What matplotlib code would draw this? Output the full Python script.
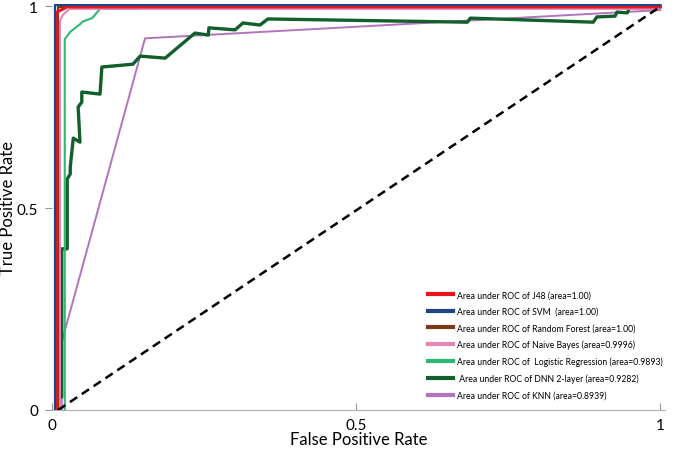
import matplotlib
matplotlib.use("Agg")
import matplotlib.pyplot as plt

plt.rcParams['font.family'] = ['Lato', 'DejaVu Sans']

# ROC curves (FPR, TPR)
knn_fpr = [0.016, 0.016, 0.153, 1.0]
knn_tpr = [0.0, 0.168, 0.920, 0.990]

dnn_fpr = [0.010, 0.010, 0.016, 0.016, 0.025, 0.025, 0.030, 0.030, 0.035, 0.046,
           0.043, 0.049, 0.049, 0.079, 0.082, 0.133, 0.145, 0.186, 0.235, 0.257,
           0.258, 0.301, 0.314, 0.342, 0.355, 0.683, 0.688, 0.890, 0.896, 0.926,
           0.929, 0.946, 0.951, 0.987, 1.0]
dnn_tpr = [0.0, 0.032, 0.032, 0.399, 0.399, 0.572, 0.584, 0.601, 0.673, 0.663,
           0.750, 0.762, 0.787, 0.782, 0.849, 0.856, 0.876, 0.871, 0.933, 0.928,
           0.946, 0.941, 0.958, 0.953, 0.968, 0.960, 0.970, 0.960, 0.973, 0.975,
           0.985, 0.983, 1.0, 0.998, 1.0]

lr_fpr = [0.021, 0.021, 0.030, 0.046, 0.051, 0.066, 0.079, 0.145, 0.148, 1.0]
lr_tpr = [0.0, 0.918, 0.936, 0.955, 0.962, 0.970, 0.993, 0.993, 0.998, 0.998]

nb_fpr = [0.013, 0.013, 0.018, 0.025, 0.030, 1.0]
nb_tpr = [0.0, 0.963, 0.978, 0.988, 0.993, 0.993]

rf_fpr = [0.010, 0.010, 1.0]
rf_tpr = [0.0, 0.997, 0.997]

j48_fpr = [0.008, 0.008, 0.025, 1.0]
j48_tpr = [0.0, 0.985, 0.998, 0.998]

svm_fpr = [0.005, 0.005, 1.0]
svm_tpr = [0.0, 1.003, 1.003]

labels = ['Area under ROC of J48 (area=1.00)',
          'Area under ROC of SVM  (area=1.00)',
          'Area under ROC of Random Forest (area=1.00)',
          'Area under ROC of Naive Bayes (area=0.9996)',
          'Area under ROC of  Logistic Regression (area=0.9893)',
          ' Area under ROC of DNN 2-layer (area=0.9282)',
          'Area under ROC of KNN (area=0.8939)']
colors = ['#e8141c', '#1c4587', '#7b3a17', '#e884b4', '#2fb872', '#11602c', '#b274bd']


def main():
    fig = plt.figure(figsize=(6.85, 4.52), dpi=100)
    ax = fig.add_axes([52 / 685, 41 / 452, 613 / 685, 406 / 452])

    curves = [(j48_fpr, j48_tpr, 2.2), (svm_fpr, svm_tpr, 1.6), (rf_fpr, rf_tpr, 1.6),
              (nb_fpr, nb_tpr, 1.5), (lr_fpr, lr_tpr, 1.5), (dnn_fpr, dnn_tpr, 2.4),
              (knn_fpr, knn_tpr, 1.4)]
    zorders = [6, 7, 5, 4, 3, 2, 1]
    for (fpr, tpr, lw), c, lab, z in zip(curves, colors, labels, zorders):
        ax.plot(fpr, tpr, color=c, lw=lw, label=lab, zorder=z)

    # chance line
    ax.plot([0.01, 0.995], [0.0, 0.993], color='black', lw=1.8, ls=(0, (3.5, 2.2)), zorder=8)

    ax.set_xlim(0, 1.008)
    ax.set_ylim(0, 1.005)
    for s in ['top', 'right', 'left']:
        ax.spines[s].set_visible(False)
    ax.spines['bottom'].set_color('#b0b0b0')

    ax.set_xticks([0, 0.5, 1])
    ax.set_xticklabels(['0', '0.5', '1'])
    ax.set_yticks([0, 0.5, 1])
    ax.set_yticklabels(['0', '0.5', '1'])
    ax.tick_params(axis='x', direction='in', length=5, color='#999999', labelsize=11, pad=6)
    ax.tick_params(axis='y', direction='out', length=5, color='#999999', labelsize=11, pad=5)

    ax.set_xlabel('False Positive Rate', fontsize=12)
    ax.xaxis.set_label_coords(0.5, -0.052)
    ax.set_ylabel('True Positive Rate', fontsize=12)
    ax.yaxis.set_label_coords(-0.058, 0.5)

    leg = ax.legend(loc='lower left', bbox_to_anchor=(0.605, 0.012), frameon=False,
                    fontsize=6.2, handlelength=2.9, handletextpad=0.5,
                    labelspacing=0.87, borderaxespad=0.2)
    for line in leg.get_lines():
        line.set_linewidth(3)

    fig.savefig('out.png', dpi=100)


if __name__ == "__main__":
    main()
